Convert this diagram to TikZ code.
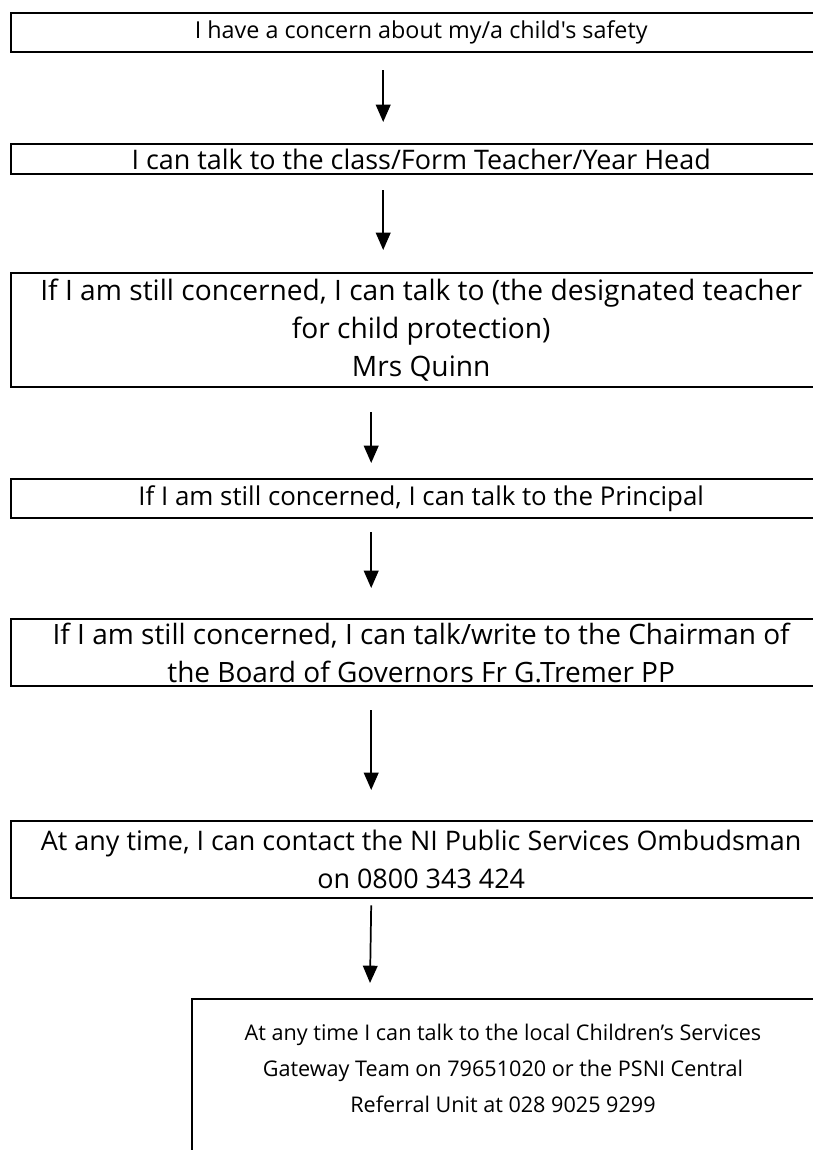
\documentclass[tikz,border=0pt]{standalone}
\usepackage{fontspec}
\setmainfont{Open Sans}[Ligatures=TeXOff]
\usetikzlibrary{arrows.meta,positioning}

\begin{document}
\begin{tikzpicture}[x=0.75pt,y=-0.75pt,
        box/.style={draw,line width=1.8pt,anchor=north west,minimum width=615pt,
            align=center,inner sep=0pt,font=\fontsize{#1}{28.5}\selectfont},
        txt/.style={align=center,inner sep=0pt,font=\fontsize{16.2}{27}\selectfont},
        arr/.style={-{Triangle[width=11pt,length=13pt]},line width=1.3pt}]
    \useasboundingbox (0,0) rectangle (813,1150);
    % steps of the procedure
    \node[box=17.5,minimum height=29.25pt] (b1) at (10,12) {I have a concern about my/a child's safety};
    \node[box=20.2,minimum height=22.5pt]  (b2) at (10,143) {I can talk to the class/Form Teacher/Year Head};
    \node[box=21.1,minimum height=85.5pt]  (b3) at (10,272) {If I am still concerned, I can talk to (the designated teacher\\for child protection)\\Mrs Quinn};
    \node[box=19.4,minimum height=29.25pt] (b4) at (10,478) {If I am still concerned, I can talk to the Principal};
    \node[box=21,minimum height=50.25pt]   (b5) at (10,618) {If I am still concerned, I can talk/write to the Chairman of\\the Board of Governors Fr G.Tremer PP};
    \node[box=20.2,minimum height=57.75pt] (b6) at (10,820) {At any time, I can contact the NI Public Services Ombudsman\\on 0800 343 424};
    % last box runs off the page
    \coordinate (c7) at (192,999);
    \draw[line width=1.1pt] (192,1160) -- (c7) -- (830,999);
    \node[txt] (b7) at (503,1068) {At any time I can talk to the local Children’s Services\\Gateway Team on 79651020 or the PSNI Central\\Referral Unit at 028 9025 9299};
    % arrows
    \draw[arr] ([xshift=-28.5pt,yshift=-12.75pt]b1.south) -- ([xshift=-28.5pt,yshift=15.75pt]b2.north);
    \draw[arr] ([xshift=-28.5pt,yshift=-11.25pt]b2.south) -- ([xshift=-28.5pt,yshift=16.5pt]b3.north);
    \draw[arr] ([xshift=-37.5pt,yshift=-18pt]b3.south) -- ([xshift=-37.5pt,yshift=11.25pt]b4.north);
    \draw[arr] ([xshift=-37.5pt,yshift=-9.75pt]b4.south) -- ([xshift=-37.5pt,yshift=22.5pt]b5.north);
    \draw[arr] ([xshift=-37.5pt,yshift=-17.25pt]b5.south) -- ([xshift=-37.5pt,yshift=22.5pt]b6.north);
    \draw[arr] ([xshift=-37.5pt,yshift=-4.5pt]b6.south) -- ([xshift=133.5pt,yshift=12pt]c7);
\end{tikzpicture}
\end{document}
